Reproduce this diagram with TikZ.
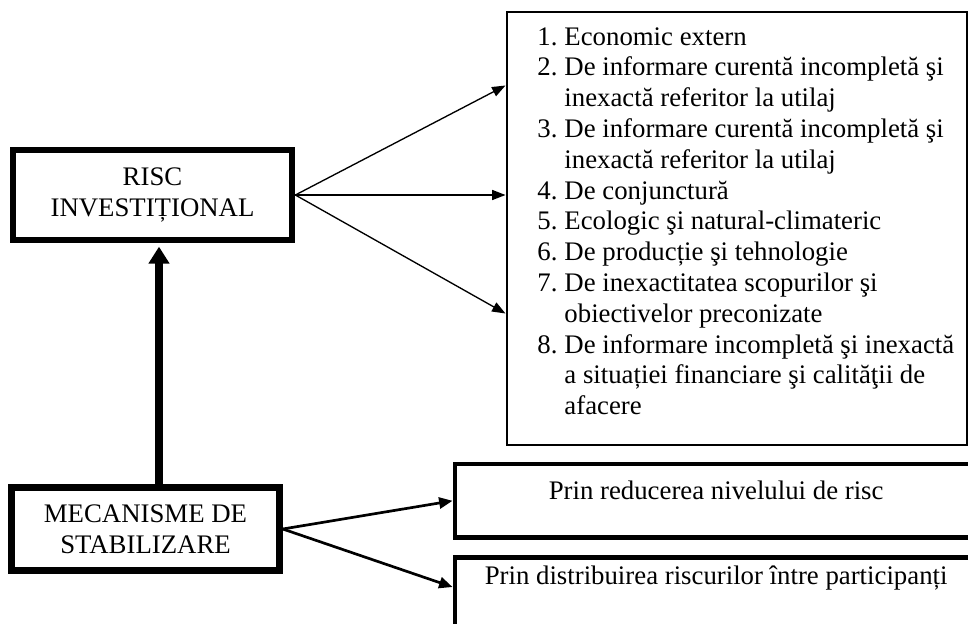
\documentclass[tikz,border=0pt]{standalone}
\usepackage{fontspec}
\setmainfont{Liberation Serif}
\usetikzlibrary{arrows.meta,calc,positioning}

\begin{document}
\begin{tikzpicture}[x=0.448pt, y=-0.448pt, font=\fontsize{12}{13.8}\selectfont,
thickbox/.style={draw, rectangle, line width=3pt, align=center, inner sep=0pt},
listbox/.style={draw, rectangle, line width=0.9pt, anchor=north west, inner sep=0pt},
waybox/.style={draw, rectangle, line width=2.2pt, anchor=north west, inner sep=0pt, minimum width=234pt},
thinarrow/.style={-{Triangle[length=6pt,width=4.5pt]}, line width=0.6pt},
midarrow/.style={-{Triangle[length=6pt,width=5pt]}, line width=1.2pt},
bigarrow/.style={-{Triangle[length=7.6pt,width=9pt]}, line width=4pt, shorten >=1.5pt}]
\useasboundingbox (0,0) rectangle (968,623);

\node(risc) [thickbox, minimum width=125pt, minimum height=40.3pt] at (152.5,195) {RISC\\INVESTIȚIONAL};
\node(meca) [thickbox, minimum width=120pt, minimum height=37.2pt] at (145.5,529) {MECANISME DE\\STABILIZARE};

% lista factorilor de risc
\node(lista) [listbox, minimum width=206.5pt, minimum height=194.4pt] at (505.5,10.5) {};
\node(factori) [anchor=north west, inner sep=0pt, align=left] at (537,23) {%
\begin{tabular}{@{}p{12.1pt}@{}l@{}}
1. & Economic extern\\
2. & De informare curentă incompletă şi\\
   & inexactă referitor la utilaj\\
3. & De informare curentă incompletă şi\\
   & inexactă referitor la utilaj\\
4. & De conjunctură\\
5. & Ecologic şi natural-climateric\\
6. & De producție şi tehnologie\\
7. & De inexactitatea scopurilor şi\\
   & obiectivelor preconizate\\
8. & De informare incompletă şi inexactă\\
   & a situației financiare şi calităţii de\\
   & afacere
\end{tabular}};

\node(reducere) [waybox, text height=15.9pt, text depth=17.1pt] at (452.5,461.5) {Prin reducerea nivelului de risc};
\node(distributie) [waybox, text height=12.1pt, text depth=28pt] at (452.5,555) {Prin distribuirea riscurilor între participanți};

\draw[thinarrow] (risc.east) -- ($(lista.north west)+(0,75)$);
\draw[thinarrow] (risc.east) -- (risc.east -| lista.west);
\draw[thinarrow] (risc.east) -- ($(lista.north west)+(0,303)$);

\draw[midarrow] (meca.east) -- (reducere.west);
\draw[midarrow] (meca.east) -- ($(distributie.north west)+(0,32)$);

\coordinate(axa) at (159,0);
\draw[bigarrow] (meca.north -| axa) -- (risc.south -| axa);
\end{tikzpicture}
\end{document}
